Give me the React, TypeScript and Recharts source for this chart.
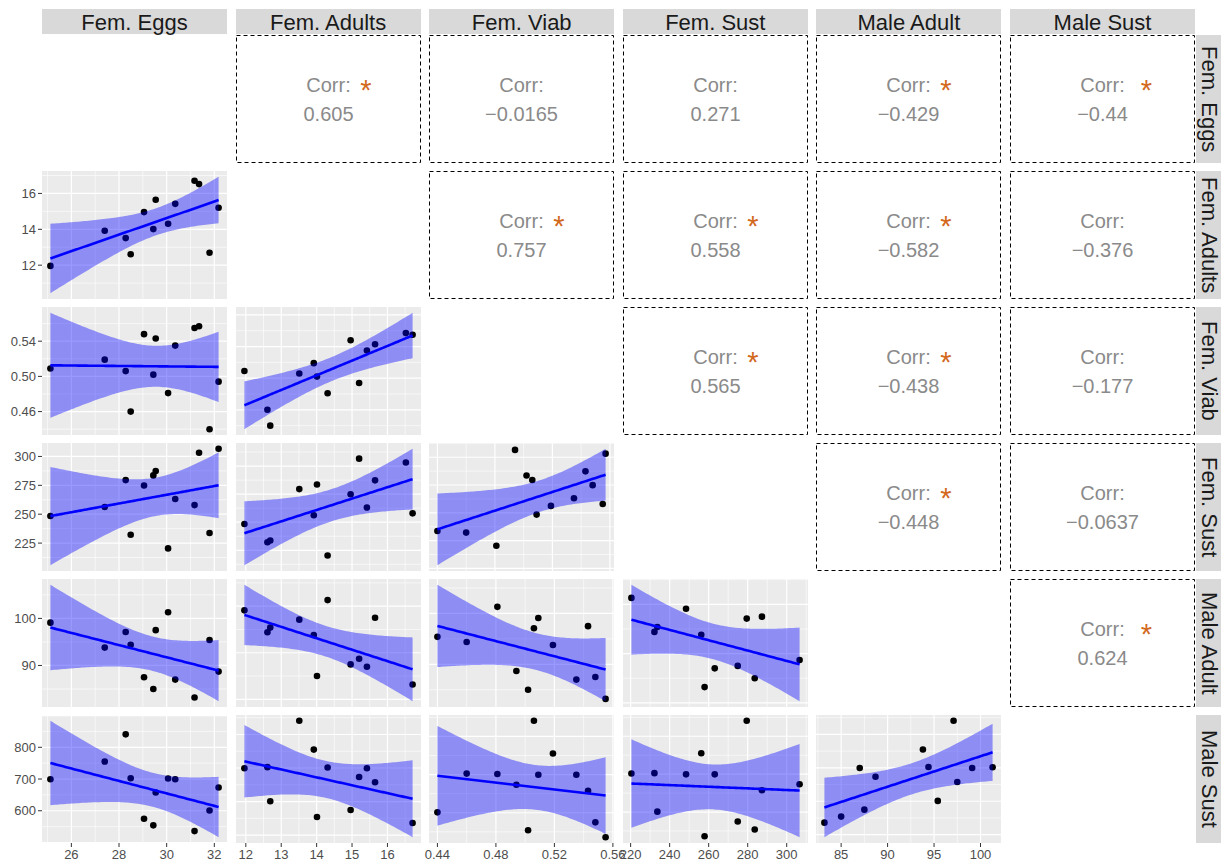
import { Area, CartesianGrid, ComposedChart, Line, Scatter, XAxis, YAxis } from 'recharts';

const FONT = '"Liberation Sans", Arial, Helvetica, sans-serif';

// variable names, in panel order (columns left→right, rows top→bottom)
const varNames = ['Fem. Eggs', 'Fem. Adults', 'Fem. Viab', 'Fem. Sust', 'Male Adult', 'Male Sust'];

// one value per line; null = not measured
const femEggs = [25.12, 27.4, 28.28, 28.49, 29.05, 29.44, 29.54, 30.06, 30.36, 31.17, 31.36, 31.8, 32.18];
const femAdults = [11.96, 13.92, 13.51, 12.61, 14.96, 14.01, 15.65, 14.31, 15.42, 16.71, 16.52, 12.69, 15.2];
const femViab = [0.509, 0.519, 0.506, 0.46, 0.548, 0.502, 0.543, 0.481, 0.535, 0.555, 0.557, 0.44, 0.494];
const femSust = [248.4, 256.2, 279.5, 232.2, 274.9, 283.6, 287.3, 220.4, 263.1, 257.9, 303.2, 233.7, 306.6];
const maleAdult = [99.1, 93.8, 97.1, 94.4, 87.5, 85.0, 97.5, 101.3, 87.0, 83.2, null, 95.4, 88.7];
const maleSust = [699.5, 755, 840.8, 702.6, 574.9, 554, 657.6, 701.6, 699.5, 536, null, 601, 673.3];

const columns: (number | null)[][] = [femEggs, femAdults, femViab, femSust, maleAdult, maleSust];

// tick labels on the outer axes
const bottomTicks = [
  [26, 28, 30, 32],
  [12, 13, 14, 15, 16],
  [0.44, 0.48, 0.52, 0.56],
  [220, 240, 260, 280, 300],
  [85, 90, 95, 100],
];
const leftTicks = [[], [12, 14, 16], [0.46, 0.5, 0.54], [225, 250, 275, 300], [90, 100], [600, 700, 800]];
const tickDigits = [0, 0, 2, 0, 0, 0];

// major grid breaks of each variable, as x and as y
const xGrid = [
  [22, 24, 26, 28, 30, 32, 34],
  [10, 11, 12, 13, 14, 15, 16, 17, 18],
  [0.36, 0.4, 0.44, 0.48, 0.52, 0.56, 0.6],
  [180, 200, 220, 240, 260, 280, 300, 320],
  [75, 80, 85, 90, 95, 100, 105, 110],
];
const yGrid = [
  [],
  [8, 10, 12, 14, 16, 18, 20],
  [0.38, 0.42, 0.46, 0.5, 0.54, 0.58, 0.62],
  [175, 200, 225, 250, 275, 300, 325, 350],
  [70, 80, 90, 100, 110, 120],
  [400, 500, 600, 700, 800, 900, 1000],
];

// upper triangle text
const corrValues = [
  ['', '0.605', '\u22120.0165', '0.271', '\u22120.429', '\u22120.44'],
  ['', '', '0.757', '0.558', '\u22120.582', '\u22120.376'],
  ['', '', '', '0.565', '\u22120.438', '\u22120.177'],
  ['', '', '', '', '\u22120.448', '\u22120.0637'],
  ['', '', '', '', '', '0.624'],
];
const corrStars = [
  [false, true, false, false, true, true],
  [false, false, true, true, true, false],
  [false, false, false, true, true, false],
  [false, false, false, false, true, false],
  [false, false, false, false, false, true],
];

const T975: Record<number, number> = { 9: 2.262, 10: 2.228, 11: 2.201 };

const COL_X = 42;
const COL_PITCH = 193.6;
const ROW_Y = 35;
const ROW_PITCH = 136;
const W = 185;
const H = 128;

function smooth(xs: number[], ys: number[]) {
  const n = xs.length;
  const mx = xs.reduce((a, b) => a + b, 0) / n;
  const my = ys.reduce((a, b) => a + b, 0) / n;
  let sxx = 0;
  let sxy = 0;
  xs.forEach((x, i) => {
    sxx += (x - mx) ** 2;
    sxy += (x - mx) * (ys[i] - my);
  });
  const b = sxy / sxx;
  const a = my - b * mx;
  let sse = 0;
  xs.forEach((x, i) => {
    sse += (ys[i] - a - b * x) ** 2;
  });
  const s = Math.sqrt(sse / (n - 2));
  const t = T975[n - 2] ?? 2.2;
  const x0 = Math.min(...xs);
  const x1 = Math.max(...xs);
  const rows = [];
  for (let i = 0; i < 80; i++) {
    const x = x0 + ((x1 - x0) * i) / 79;
    const fit = a + b * x;
    const se = s * Math.sqrt(1 / n + (x - mx) ** 2 / sxx);
    rows.push({ x, y: fit, fit, band: [fit - t * se, fit + t * se] });
  }
  return rows;
}

const expand = (lo: number, hi: number): [number, number] => {
  const d = (hi - lo) * 0.05;
  return [lo - d, hi + d];
};

const inside = (v: number, d: [number, number]) => v >= d[0] && v <= d[1];

const minorOf = (major: number[]) => {
  const step = major[1] - major[0];
  return [...major.map((v) => v - step / 2), major[major.length - 1] + step / 2];
};

const fmt = (digits: number) => (v: number) => v.toFixed(digits);

function PairPanel({ r, c }: { r: number; c: number }) {
  const xs: number[] = [];
  const ys: number[] = [];
  columns[c].forEach((v, i) => {
    const w = columns[r][i];
    if (v != null && w != null) {
      xs.push(v);
      ys.push(w);
    }
  });
  const pts = xs.map((x, i) => ({ x, y: ys[i] }));
  const rows = smooth(xs, ys);
  const xd = expand(Math.min(...xs), Math.max(...xs));
  const yd = expand(
    Math.min(...ys, ...rows.map((d) => d.band[0])),
    Math.max(...ys, ...rows.map((d) => d.band[1])),
  );
  const showX = r === 5;
  const showY = c === 0;
  const padL = showY ? 42 : showX ? 16 : 0;
  const padR = showX ? 16 : 0;
  const padB = showX ? 24 : 0;

  const majX = xGrid[c].filter((v) => inside(v, xd));
  const minX = minorOf(xGrid[c]).filter((v) => inside(v, xd));
  const majY = yGrid[r].filter((v) => inside(v, yd));
  const minY = minorOf(yGrid[r]).filter((v) => inside(v, yd));
  const tickStyle = { fontSize: 13, fill: '#4D4D4D', fontFamily: FONT };

  return (
    <div
      style={{
        position: 'absolute',
        left: COL_X + c * COL_PITCH - padL,
        top: ROW_Y + r * ROW_PITCH,
      }}
    >
      <ComposedChart
        width={W + padL + padR}
        height={H + padB}
        data={rows}
        margin={{ top: 0, right: padR, bottom: 0, left: showY ? 0 : padL }}
      >
        <CartesianGrid
          fill="#EBEBEB"
          stroke="#FFFFFF"
          strokeWidth={0.6}
          verticalValues={minX}
          horizontalValues={minY}
        />
        <CartesianGrid stroke="#FFFFFF" strokeWidth={1.2} verticalValues={majX} horizontalValues={majY} />
        <XAxis
          type="number"
          dataKey="x"
          domain={xd}
          allowDataOverflow
          hide={!showX}
          ticks={showX ? bottomTicks[c] : undefined}
          tickFormatter={fmt(tickDigits[c])}
          interval={0}
          height={24}
          tickSize={4}
          tickMargin={3}
          axisLine={false}
          tickLine={{ stroke: '#333333' }}
          tick={tickStyle}
        />
        <YAxis
          type="number"
          dataKey="y"
          domain={yd}
          allowDataOverflow
          hide={!showY}
          ticks={showY ? leftTicks[r] : undefined}
          tickFormatter={fmt(tickDigits[r])}
          interval={0}
          width={42}
          tickSize={4}
          tickMargin={2}
          axisLine={false}
          tickLine={{ stroke: '#333333' }}
          tick={tickStyle}
        />
        <Scatter
          data={pts}
          isAnimationActive={false}
          zIndex={50}
          shape={(p: any) => <circle cx={p.cx} cy={p.cy} r={3.3} fill="#000000" />}
        />
        <Area
          type="linear"
          dataKey="band"
          stroke="none"
          fill="#0000FF"
          fillOpacity={0.4}
          zIndex={100}
          isAnimationActive={false}
        />
        <Line
          type="linear"
          dataKey="fit"
          stroke="#0000FF"
          strokeWidth={2.6}
          dot={false}
          zIndex={400}
          isAnimationActive={false}
        />
      </ComposedChart>
    </div>
  );
}

function CorrPanel({ r, c }: { r: number; c: number }) {
  const cx = W / 2;
  const cy = H / 2;
  const starDx = c === 5 ? 44 : 37.5;
  return (
    <svg
      width={W}
      height={H}
      style={{ position: 'absolute', left: COL_X + c * COL_PITCH, top: ROW_Y + r * ROW_PITCH }}
    >
      <rect x={0.5} y={0.5} width={W - 1} height={H - 1} fill="#FFFFFF" stroke="#000000" strokeDasharray="4 3" />
      <text x={cx} y={cy - 7} textAnchor="middle" fontSize={20} fill="#8A8A8A" fontFamily={FONT}>
        Corr:
      </text>
      <text x={cx} y={cy + 22} textAnchor="middle" fontSize={20} fill="#8A8A8A" fontFamily={FONT}>
        {corrValues[r][c]}
      </text>
      {corrStars[r][c] && (
        <text x={cx + starDx} y={cy + 1} textAnchor="middle" fontSize={29} fill="#D2691E" fontFamily={FONT}>
          *
        </text>
      )}
    </svg>
  );
}

export default function App() {
  const cells = [];
  for (let r = 0; r < 6; r++) {
    for (let c = 0; c < 6; c++) {
      if (r > c) cells.push(<PairPanel key={`${r}-${c}`} r={r} c={c} />);
      else if (r < c) cells.push(<CorrPanel key={`${r}-${c}`} r={r} c={c} />);
    }
  }
  return (
    <div
      style={{
        position: 'absolute',
        left: 0,
        top: 0,
        width: 1223,
        height: 868,
        background: '#FFFFFF',
        fontFamily: FONT,
        overflow: 'hidden',
      }}
    >
      {varNames.map((name, c) => (
        <div
          key={`top-${name}`}
          style={{
            position: 'absolute',
            left: COL_X + c * COL_PITCH,
            top: 9,
            width: W,
            height: 24.5,
            background: '#D9D9D9',
            color: '#1A1A1A',
            fontSize: 22,
            lineHeight: '28px',
            textAlign: 'center',
            whiteSpace: 'nowrap',
          }}
        >
          {name}
        </div>
      ))}
      {varNames.map((name, r) => (
        <div
          key={`right-${name}`}
          style={{
            position: 'absolute',
            left: 1196,
            top: ROW_Y + r * ROW_PITCH,
            width: 24.5,
            height: H,
            background: '#D9D9D9',
            color: '#1A1A1A',
            fontSize: 22,
            lineHeight: '24px',
            writingMode: 'vertical-rl',
            textAlign: 'center',
            whiteSpace: 'nowrap',
          }}
        >
          {name}
        </div>
      ))}
      {cells}
    </div>
  );
}
